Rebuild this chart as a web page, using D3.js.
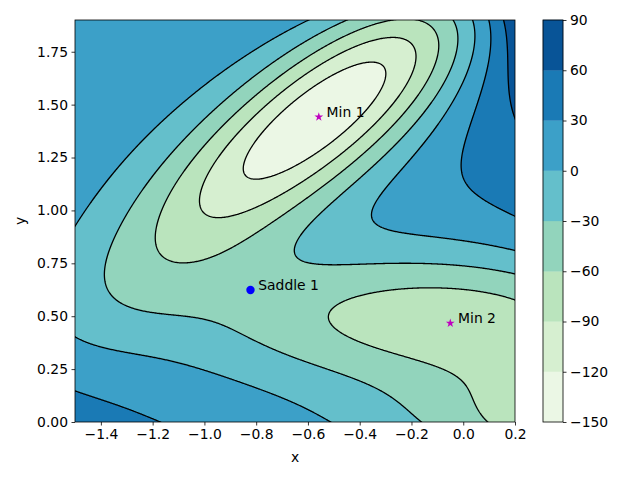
<!DOCTYPE html>
<html>
<head>
<meta charset="utf-8">
<script src="https://cdn.jsdelivr.net/npm/d3@7"></script>
<style>
html,body{margin:0;padding:0;background:#fff;}
svg{display:block;font-family:"DejaVu Sans",sans-serif;}
</style>
</head>
<body>
<svg id="chart" width="640" height="480"></svg>
<script>
// Müller-Brown potential parameters
const A  = [-200, -100, -170, 15];
const pa = [-1, -1, -6.5, 0.7];
const pb = [0, 0, 11, 0.6];
const pc = [-10, -10, -6.5, 0.7];
const X0 = [1, 0, -0.5, -1];
const Y0 = [0, 0.5, 1.5, 1];

const levels = [-150, -120, -90, -60, -30, 0, 30, 60, 90];
const bandColors = ["#ebf7e5","#d6efd0","#bae4bd","#92d4bc","#64bfcb","#3ca0c8","#1a7ab5","#085497"];

const pointNames = ["Min 1", "Min 2", "Saddle 1"];
const pointX = [-0.558, -0.050, -0.822];
const pointY = [1.442, 0.467, 0.624];
const pointKind = ["star", "star", "circle"];

const xTicks = [-1.4, -1.2, -1.0, -0.8, -0.6, -0.4, -0.2, 0.0, 0.2];
const yTicks = [0.00, 0.25, 0.50, 0.75, 1.00, 1.25, 1.50, 1.75];
const xDomain = [-1.5, 0.2];
const yDomain = [0, 1.9];

function V(x, y) {
  let s = 0;
  for (let k = 0; k < 4; k++) {
    const dx = x - X0[k], dy = y - Y0[k];
    s += A[k] * Math.exp(pa[k]*dx*dx + pb[k]*dx*dy + pc[k]*dy*dy);
  }
  return s;
}

const svg = d3.select("#chart");
const L = 75, R = 515, T = 20, B = 422;
const x = d3.scaleLinear().domain(xDomain).range([L, R]);
const y = d3.scaleLinear().domain(yDomain).range([B, T]);

// grid
const pad = 3;
const n = (R - L) + 2*pad, m = (B - T) + 2*pad;
const values = new Float64Array(n*m);
for (let j = 0; j < m; j++) {
  const py = T - pad + j + 0.5;
  const yy = y.invert(py);
  for (let i = 0; i < n; i++) {
    const px = L - pad + i + 0.5;
    values[i + j*n] = V(x.invert(px), yy);
  }
}
const contours = d3.contours().size([n, m]).thresholds(levels)(values);
const proj = d3.geoTransform({point: function(px, py){ this.stream.point(px + L - pad, py + T - pad); }});
const path = d3.geoPath(proj);

svg.append("defs").append("clipPath").attr("id","clip")
  .append("rect").attr("x", L).attr("y", T).attr("width", R-L).attr("height", B-T);

const g = svg.append("g").attr("clip-path","url(#clip)");
contours.forEach((c, i) => {
  if (i < bandColors.length)
    g.append("path").attr("d", path(c)).attr("fill", bandColors[i]).attr("stroke", bandColors[i]).attr("stroke-width", 0.5);
});
contours.forEach((c, i) => {
  if (i > 0)
    g.append("path").attr("d", path(c)).attr("fill", "none").attr("stroke", "#000").attr("stroke-width", 1.3);
});

// points
const star = d3.symbol().type(d3.symbolStar).size(24);
pointNames.forEach((name, i) => {
  const px = x(pointX[i]), py = y(pointY[i]);
  if (pointKind[i] === "star") {
    svg.append("path").attr("d", star()).attr("transform", `translate(${px},${py})`).attr("fill", "#bf00bf");
  } else {
    svg.append("circle").attr("cx", px).attr("cy", py).attr("r", 4.2).attr("fill", "#0000ff");
  }
  svg.append("text").attr("x", x(pointX[i] + 0.03)).attr("y", py).attr("font-size", 13.9).attr("fill", "#000").text(name);
});

// axes
const fmtMinus = s => s.replace("-", "\u2212");
const xAxis = d3.axisBottom(x).tickValues(xTicks).tickSize(3.5).tickPadding(3.5).tickFormat(d => fmtMinus(d3.format(".1f")(d)));
const yAxis = d3.axisLeft(y).tickValues(yTicks).tickSize(3.5).tickPadding(3.5).tickFormat(d => d3.format(".2f")(d));
const gx = svg.append("g").attr("transform", `translate(0,${B})`).call(xAxis);
const gy = svg.append("g").attr("transform", `translate(${L},0)`).call(yAxis);
[gx, gy].forEach(a => {
  a.select(".domain").remove();
  a.selectAll("line").attr("stroke", "#000").attr("stroke-width", 0.8);
  a.selectAll("text").attr("font-size", 13.9).attr("font-family", "DejaVu Sans").attr("fill", "#000");
});
svg.append("rect").attr("x", L).attr("y", T).attr("width", R-L).attr("height", B-T)
  .attr("fill", "none").attr("stroke", "#000").attr("stroke-width", 0.8);
svg.append("text").attr("x", (L+R)/2).attr("y", 462).attr("text-anchor", "middle").attr("font-size", 13.9).text("x");
svg.append("text").attr("transform", `translate(25,${(T+B)/2}) rotate(-90)`).attr("text-anchor", "middle").attr("font-size", 13.9).text("y");

// colorbar
const CL = 543, CR = 563;
const cy = d3.scaleLinear().domain([levels[0], levels[levels.length-1]]).range([B, T]);
for (let i = 0; i < bandColors.length; i++) {
  svg.append("rect").attr("x", CL).attr("y", cy(levels[i+1])).attr("width", CR-CL)
    .attr("height", cy(levels[i]) - cy(levels[i+1])).attr("fill", bandColors[i]).attr("stroke", bandColors[i]).attr("stroke-width", 0.3);
}
svg.append("rect").attr("x", CL).attr("y", T).attr("width", CR-CL).attr("height", B-T)
  .attr("fill", "none").attr("stroke", "#000").attr("stroke-width", 0.8);
const cAxis = d3.axisRight(cy).tickValues(levels).tickSize(3.5).tickPadding(3.5).tickFormat(d => fmtMinus(String(d)));
const gc = svg.append("g").attr("transform", `translate(${CR},0)`).call(cAxis);
gc.select(".domain").remove();
gc.selectAll("line").attr("stroke", "#000").attr("stroke-width", 0.8);
gc.selectAll("text").attr("font-size", 13.9).attr("font-family", "DejaVu Sans").attr("fill", "#000");
</script>
</body>
</html>
